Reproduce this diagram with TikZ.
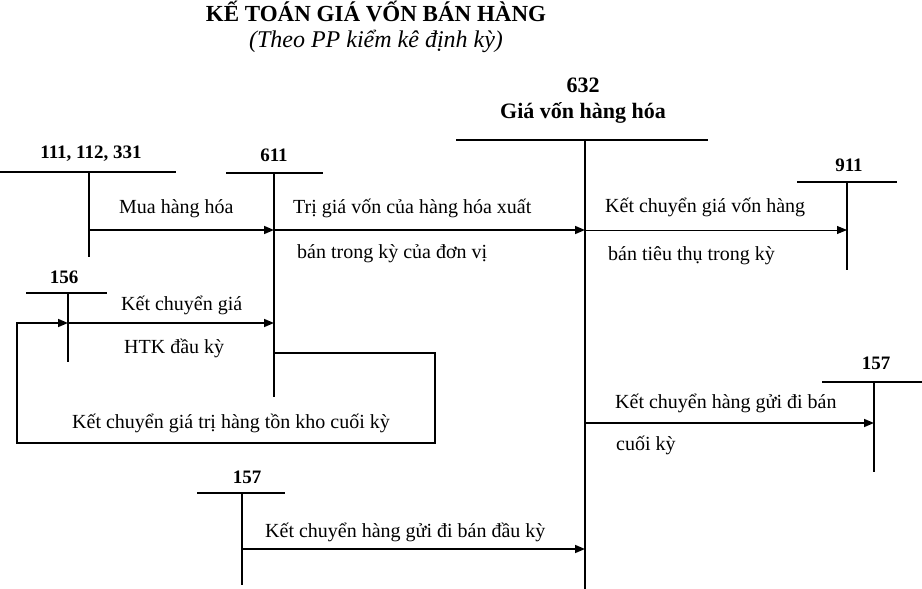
\documentclass[tikz,border=0pt]{standalone}
\usepackage{fontspec}
\setmainfont{Liberation Serif}
\usetikzlibrary{arrows.meta}
\tikzset{
  tline/.style={line width=1.6pt},
  flow/.style={line width=1.6pt, -{Triangle[length=10pt,width=8pt]}},
  thinflow/.style={line width=0.9pt, -{Triangle[length=10pt,width=8pt]}},
  acct/.style={font=\fontsize{19}{22}\selectfont\bfseries, inner sep=0pt, anchor=base},
  head/.style={font=\fontsize{22}{26}\selectfont\bfseries, inner sep=0pt, anchor=base},
  txt/.style={font=\fontsize{20}{24}\selectfont, inner sep=0pt, anchor=base west},
}
\begin{document}
\begin{tikzpicture}[x=1pt,y=-1pt]
\useasboundingbox (0,0) rectangle (922,589);

% Title
\node[head, font=\fontsize{23}{26}\selectfont\bfseries] (title) at (376,21) {KẾ TOÁN GIÁ VỐN BÁN HÀNG};
\node[head, font=\fontsize{24}{28}\selectfont\itshape] (subtitle) at (376,47) {(Theo PP kiểm kê định kỳ)};

% Account 632
\node[head] (n632) at (583,92) {632};
\node[head] (name632) at (583,118) {Giá vốn hàng hóa};
\coordinate (t632) at (585,140);
\draw[tline] (456,140) -- (708,140);
\draw[tline] (t632) -- (585,589);

% Account 111, 112, 331
\node[acct] (n111) at (91,158) {111, 112, 331};
\coordinate (t111) at (89,172);
\draw[tline] (0,172) -- (176,172);
\draw[tline] (t111) -- (89,257);

% Account 611
\node[acct] (n611) at (274,161) {611};
\coordinate (t611) at (274,173);
\draw[tline] (226,173) -- (323,173);
\draw[tline] (t611) -- (274,397);

% Account 911
\node[acct] (n911) at (849,171) {911};
\coordinate (t911) at (847,182);
\draw[tline] (797,182) -- (897,182);
\draw[tline] (t911) -- (847,270);

% Account 156
\node[acct] (n156) at (64,283) {156};
\coordinate (t156) at (68,293);
\draw[tline] (26,293) -- (107,293);
\draw[tline] (t156) -- (68,362);

% Account 157 (right)
\node[acct] (n157r) at (876,369) {157};
\coordinate (t157r) at (874,382);
\draw[tline] (822,382) -- (922,382);
\draw[tline] (t157r) -- (874,472);

% Account 157 (bottom)
\node[acct] (n157b) at (247,483) {157};
\coordinate (t157b) at (242,493);
\draw[tline] (197,493) -- (285,493);
\draw[tline] (t157b) -- (242,585);

% Junction points
\coordinate (p111) at (89,230);
\coordinate (p611a) at (274,230);
\coordinate (p632a) at (585,230);
\coordinate (p911) at (847,230);
\coordinate (p156) at (68,323);
\coordinate (p611b) at (274,323);
\coordinate (p611c) at (274,353);
\coordinate (cr1) at (435,353);
\coordinate (cr2) at (435,443);
\coordinate (cl1) at (17,443);
\coordinate (cl2) at (17,323);
\coordinate (p632b) at (585,423);
\coordinate (p157r) at (874,423);
\coordinate (p157b) at (242,549);
\coordinate (p632c) at (585,549);

% Flows
\draw[flow] (p111) -- (p611a);
\node[txt] (lbuy) at (119,213) {Mua hàng hóa};

\draw[flow] (p611a) -- (p632a);
\node[txt] (lcost1) at (293,213) {Trị giá vốn của hàng hóa xuất};
\node[txt] (lcost2) at (297,258) {bán trong kỳ của đơn vị};

\draw[thinflow] (p632a) -- (p911);
\node[txt] (l911a) at (605,212) {Kết chuyển giá vốn hàng};
\node[txt] (l911b) at (608,260) {bán tiêu thụ trong kỳ};

\draw[flow] (p156) -- (p611b);
\node[txt] (lopen1) at (121,310) {Kết chuyển giá};
\node[txt] (lopen2) at (124,353) {HTK đầu kỳ};

\draw[flow] (p611c) -- (cr1) -- (cr2) -- (cl1) -- (cl2) -- (p156);
\node[txt] (lclose) at (72,428) {Kết chuyển giá trị hàng tồn kho cuối kỳ};

\draw[flow] (p632b) -- (p157r);
\node[txt] (l157a) at (615,408) {Kết chuyển hàng gửi đi bán};
\node[txt] (l157b) at (616,450) {cuối kỳ};

\draw[flow] (p157b) -- (p632c);
\node[txt] (l157c) at (265,537) {Kết chuyển hàng gửi đi bán đầu kỳ};
\end{tikzpicture}
\end{document}
